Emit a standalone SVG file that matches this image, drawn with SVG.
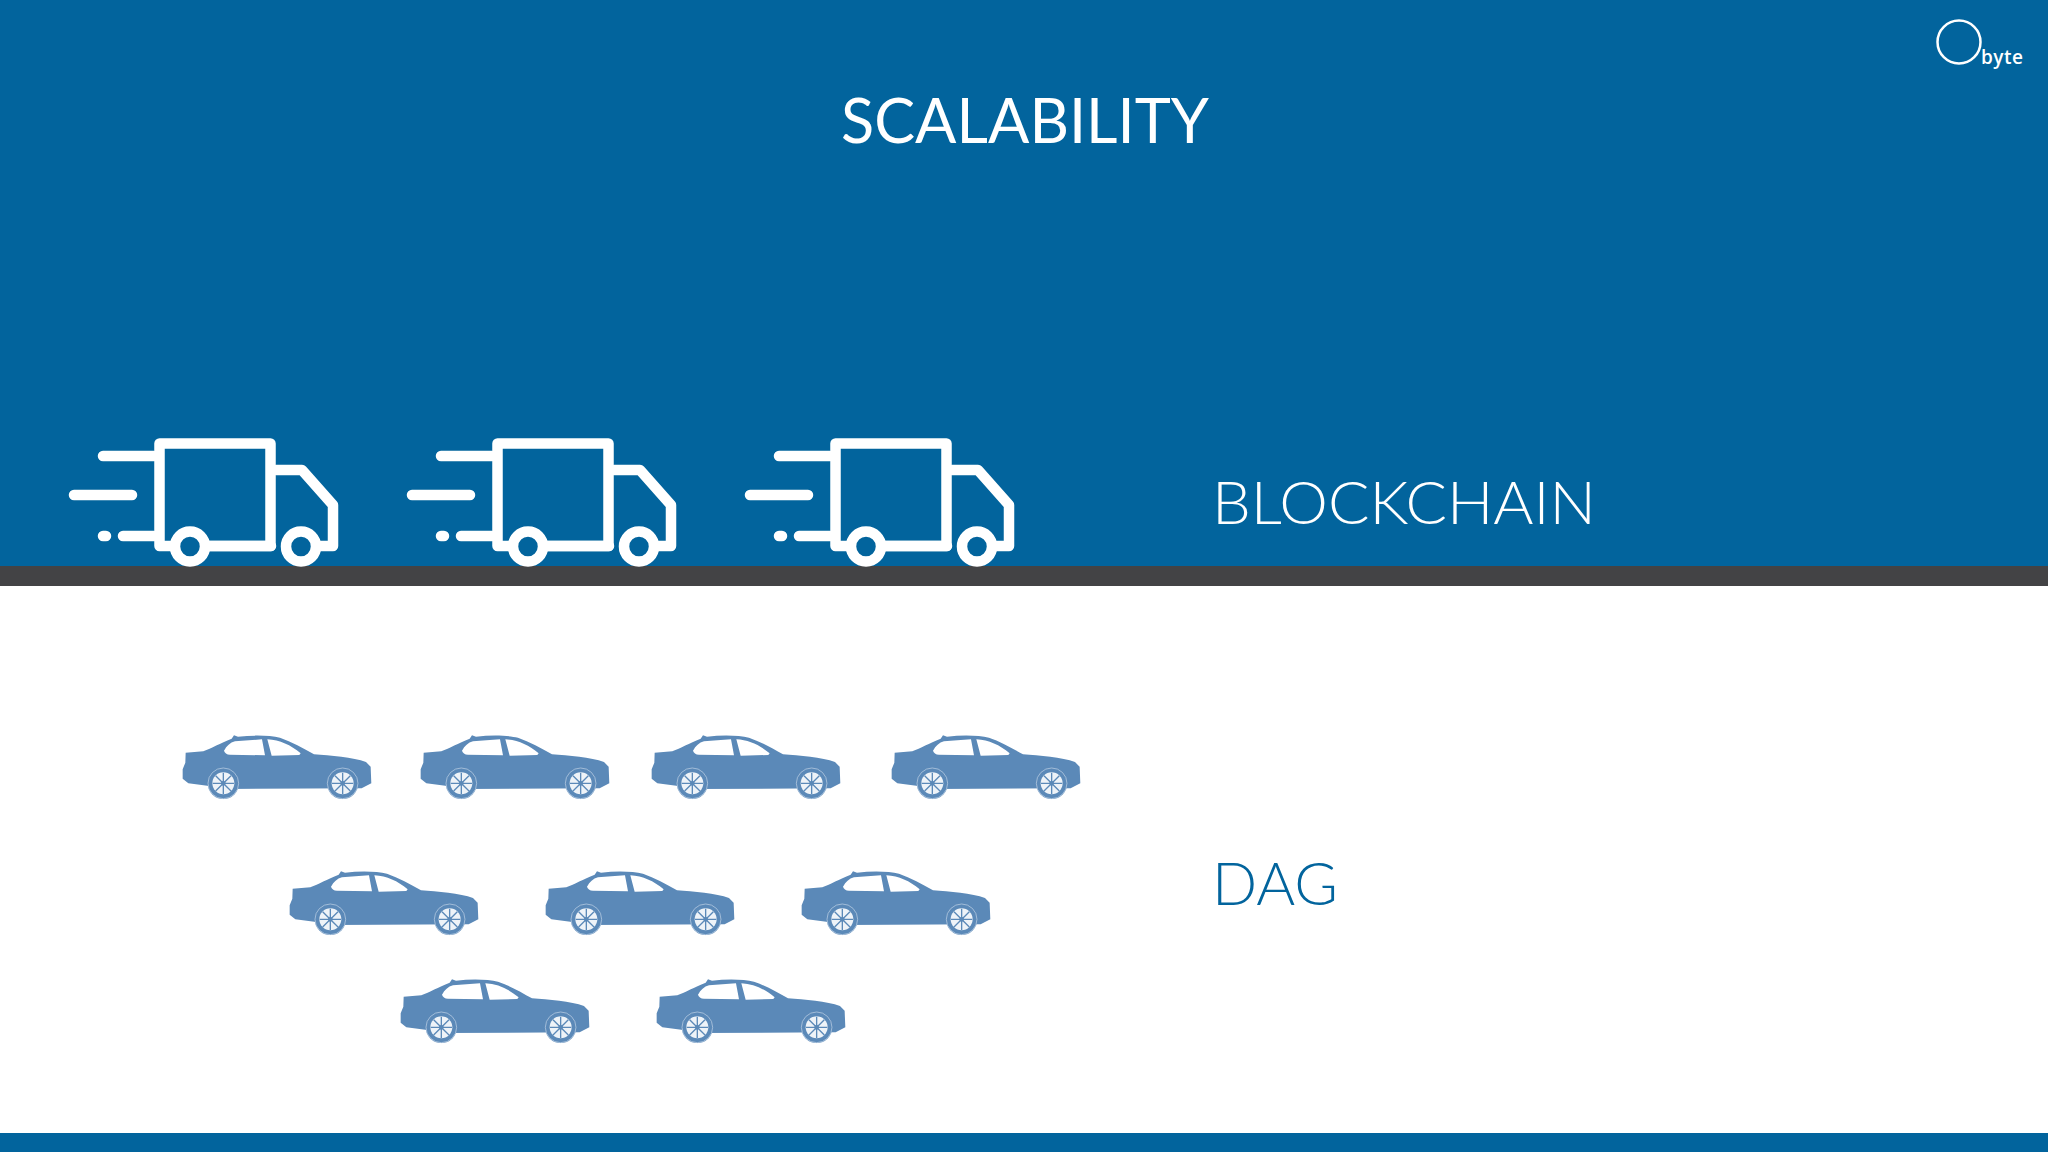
<svg xmlns="http://www.w3.org/2000/svg" width="2048" height="1152" viewBox="0 0 2048 1152">
<style>
.t{font-family:"Lato","Open Sans",sans-serif;font-weight:300}
.w{fill:#fff}
.truck *{fill:none;stroke:#fff;stroke-width:10.5;stroke-linecap:round;stroke-linejoin:round}
.truck .wheel{fill:#02649d}
</style>
<defs>
<g id="truck" class="truck">
<path d="M103 456H154M74 495H132M123 536H154M103 536H106"/>
<path d="M190 546H159.500V443.500H270.500V546H204"/>
<path d="M276 470H302L333 505V546H318M271 546H204"/>
<circle class="wheel" cx="190" cy="546.500" r="15"/>
<circle class="wheel" cx="301" cy="546.500" r="15"/>
</g>
<g id="wheel">
<circle r="47" fill="#5b89b8"/>
<circle r="46" fill="none" stroke="#c5d7e8" stroke-width="2"/>
<circle r="33" fill="#eef3f8"/>
<g stroke="#5b89b8" stroke-width="4">
<path d="M-32 0H32M0 -32V32M-23 -23L23 23M-23 23L23 -23"/>
</g>
<circle r="7" fill="#5b89b8"/>
</g>
<g id="car" transform="translate(170 720) scale(.3333)">
<path fill="#5b89b8" d="M47 98L100 94C125 84 150 70 185 56L192 46L204 50C250 45 300 46 330 53C365 65 400 85 432 103C480 106 550 112 588 126L602 140L604 190L575 205L170 207L112 197L55 190L38 176L38 148L46 128Z"/>
<path fill="#fff" d="M162 92C170 78 180 68 195 64L276 58L285 106L180 104C170 104 164 98 162 92ZM292 58C330 60 362 75 392 100L388 105L305 107Z"/>
<use href="#wheel" x="160" y="190"/>
<use href="#wheel" x="518" y="190"/>
</g>
</defs>
<rect width="2048" height="1152" fill="#fff"/>
<rect width="2048" height="566" fill="#02649d"/>
<rect y="566" width="2048" height="20" fill="#434345"/>
<rect y="1133" width="2048" height="19" fill="#02649d"/>
<g id="logo">
<circle cx="1959" cy="42" r="21.500" fill="none" stroke="#fff" stroke-width="2.500"/>
<text x="1981" y="64" class="w" style="font-family:'Open Sans',sans-serif;font-size:19px;font-weight:600" textLength="42">byte</text>
</g>
<text id="title" x="841" y="143" class="t w" style="font-weight:400" font-size="61" textLength="368" lengthAdjust="spacingAndGlyphs">SCALABILITY</text>
<g id="truck-1"><use href="#truck"/></g>
<g id="truck-2"><use href="#truck" x="338"/></g>
<g id="truck-3"><use href="#truck" x="676"/></g>
<text id="blockchain" x="1212" y="524" class="t w" font-size="60" textLength="384" lengthAdjust="spacingAndGlyphs">BLOCKCHAIN</text>
<text id="dag" x="1212" y="905" class="t" fill="#02649d" font-size="60" textLength="126" lengthAdjust="spacingAndGlyphs">DAG</text>
<g id="car-1"><use href="#car"/></g>
<g id="car-2"><use href="#car" x="238"/></g>
<g id="car-3"><use href="#car" x="469"/></g>
<g id="car-4"><use href="#car" x="709"/></g>
<g id="car-5"><use href="#car" x="107" y="136"/></g>
<g id="car-6"><use href="#car" x="363" y="136"/></g>
<g id="car-7"><use href="#car" x="619" y="136"/></g>
<g id="car-8"><use href="#car" x="218" y="244"/></g>
<g id="car-9"><use href="#car" x="474" y="244"/></g>
</svg>
